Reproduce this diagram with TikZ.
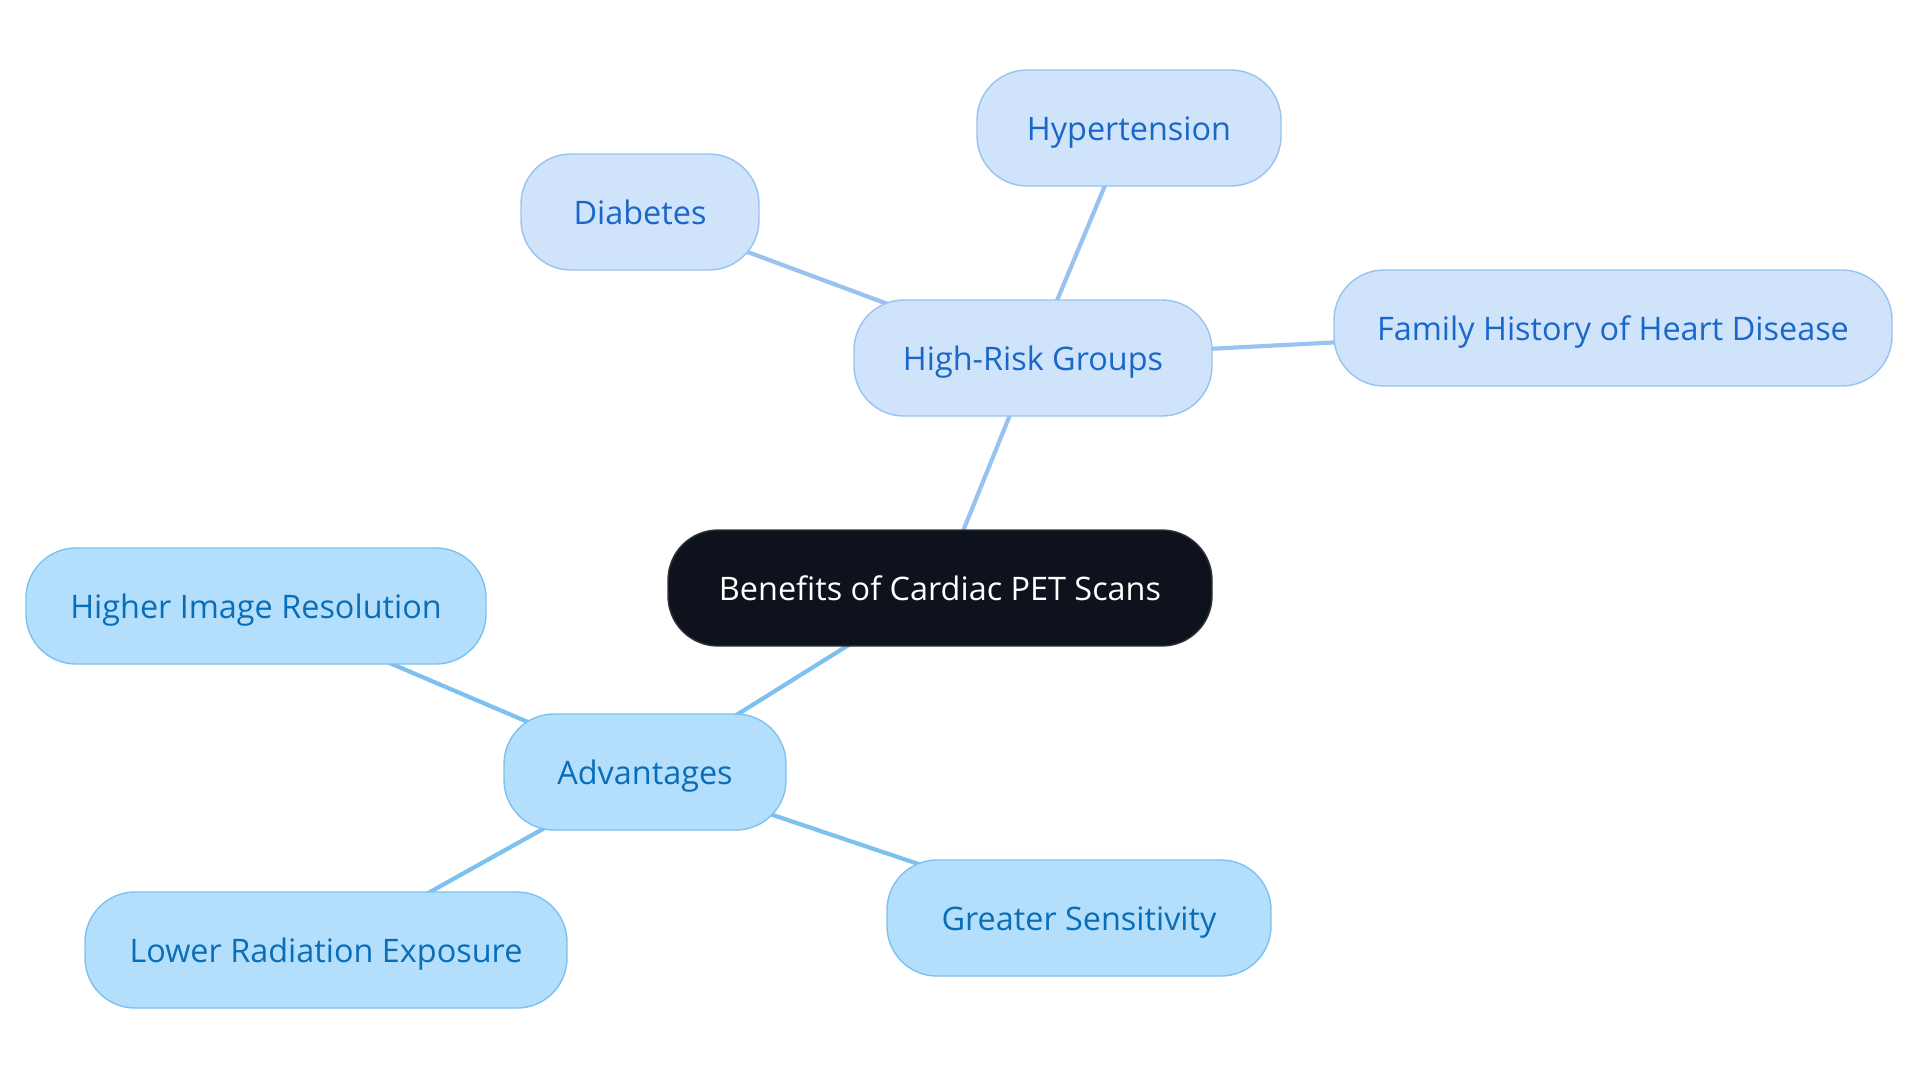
\documentclass[tikz,border=0pt]{standalone}
\usepackage{fontspec}
\setmainfont{Open Sans}
\usetikzlibrary{positioning, backgrounds}

\definecolor{rootfill}{HTML}{0D121C}
\definecolor{rootline}{HTML}{30343C}
\definecolor{riskfill}{HTML}{CFE3FB}
\definecolor{riskline}{HTML}{98C3F0}
\definecolor{risktext}{HTML}{1967C8}
\definecolor{advfill}{HTML}{B3DFFD}
\definecolor{advline}{HTML}{7EC1F0}
\definecolor{advtext}{HTML}{0A6DB8}

\tikzset{
    topic/.style={rectangle, rounded corners=25pt, minimum height=58pt, inner xsep=0pt,
        text height=15pt, text depth=3pt,
        font=\fontsize{16.2}{19}\selectfont, line width=0.7pt},
    rootnode/.style={topic, fill=rootfill, draw=rootline, text=white},
    risknode/.style={topic, fill=riskfill, draw=riskline, text=risktext},
    advnode/.style={topic, fill=advfill, draw=advline, text=advtext},
    risklink/.style={draw=riskline, line width=2.1pt},
    advlink/.style={draw=advline, line width=2.1pt}
}

\begin{document}
\begin{tikzpicture}[x=0.5pt, y=-0.5pt]
    \useasboundingbox (0,0) rectangle (1920,1083);

    % Root
    \node[rootnode, minimum width=272pt] (root) at (940,588) {Benefits of Cardiac PET Scans};

    % High-risk branch
    \node[risknode, minimum width=179pt] (risk) at (1033,358) {High-Risk Groups};
    \node[risknode, minimum width=119pt] (diab) at (640,212) {Diabetes};
    \node[risknode, minimum width=152pt] (hyper) at (1129,128) {Hypertension};
    \node[risknode, minimum width=279pt] (family) at (1613,328) {Family History of Heart Disease};

    % Advantages branch
    \node[advnode, minimum width=141pt] (adv) at (645,772) {Advantages};
    \node[advnode, minimum width=230pt] (resol) at (256,606) {Higher Image Resolution};
    \node[advnode, minimum width=241pt] (radiation) at (326,950) {Lower Radiation Exposure};
    \node[advnode, minimum width=192pt] (sensitivity) at (1079,918) {Greater Sensitivity};

    % Links, under the nodes
    \begin{scope}[on background layer]
        \draw[risklink] (root.center) -- (risk.center);
        \draw[risklink] (risk.center) -- (diab.center);
        \draw[risklink] (risk.center) -- (hyper.center);
        \draw[risklink] (risk.center) -- (family.center);
        \draw[advlink] (root.center) -- (adv.center);
        \draw[advlink] (adv.center) -- (resol.center);
        \draw[advlink] (adv.center) -- (radiation.center);
        \draw[advlink] (adv.center) -- (sensitivity.center);
    \end{scope}
\end{tikzpicture}
\end{document}
